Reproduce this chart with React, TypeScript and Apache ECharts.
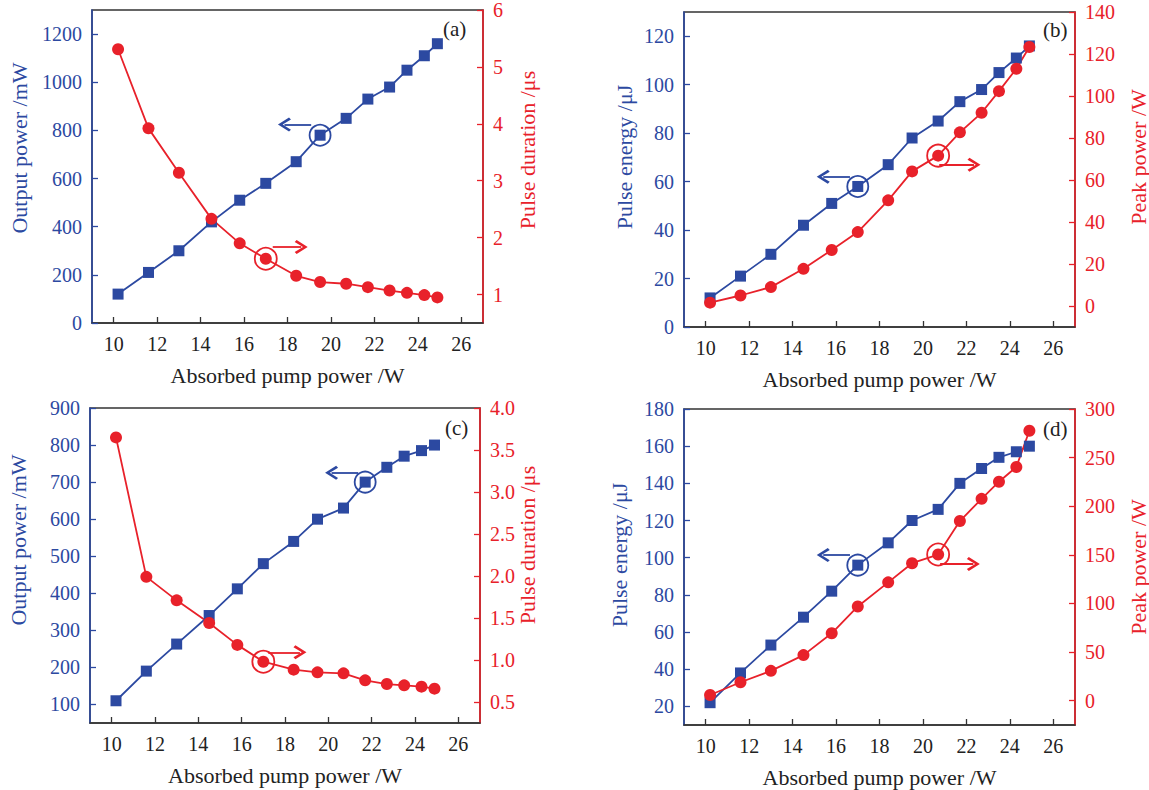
import React, { useEffect, useRef } from "react";
import * as echarts from "echarts";

// ---------- data ----------
const pump = [10.2, 11.6, 13.0, 14.5, 15.8, 17.0, 18.4, 19.5, 20.7, 21.7, 22.7, 23.5, 24.3, 24.9];
const outputA = [120, 210, 300, 420, 510, 580, 670, 780, 850, 930, 980, 1050, 1110, 1160];
const durationA = [5.31, 3.92, 3.14, 2.33, 1.9, 1.63, 1.33, 1.22, 1.19, 1.13, 1.07, 1.03, 0.99, 0.95];
const energyB = [12, 21, 30, 42, 51, 58, 67, 78, 85, 93, 98, 105, 111, 116];
const peakB = [1.6, 5, 9, 17.7, 26.7, 35.2, 50.3, 64.1, 71.6, 82.7, 92, 102.3, 113, 123.3];
const outputC = [110, 190, 263, 340, 412, 480, 540, 600, 630, 700, 740, 770, 785, 800];
const durationC = [3.65, 1.99, 1.71, 1.44, 1.18, 0.98, 0.885, 0.853, 0.841, 0.758, 0.714, 0.698, 0.683, 0.659];
const energyD = [22, 38, 53, 68, 82, 96, 108, 120, 126, 140, 148, 154, 157, 160];
const peakD = [5.9, 19, 30.7, 46.9, 69.3, 96.9, 121.7, 141.4, 150.3, 184.8, 207.6, 225.2, 240.3, 277.6];

const xTicks = [10, 12, 14, 16, 18, 20, 22, 24, 26];
const ticksA_L = [0, 200, 400, 600, 800, 1000, 1200];
const ticksA_R = [1, 2, 3, 4, 5, 6];
const ticksB_L = [0, 20, 40, 60, 80, 100, 120];
const ticksB_R = [0, 20, 40, 60, 80, 100, 120, 140];
const ticksC_L = [100, 200, 300, 400, 500, 600, 700, 800, 900];
const ticksC_R = [0.5, 1.0, 1.5, 2.0, 2.5, 3.0, 3.5, 4.0];
const ticksD_L = [20, 40, 60, 80, 100, 120, 140, 160, 180];
const ticksD_R = [0, 50, 100, 150, 200, 250, 300];

// annotation: highlighted point index (blue, red) and arrow [x0, x1, y]
const markA = { blue: 7, red: 5, blueArrow: [19.09, 17.86, 824], redArrow: [17.32, 18.63, 1.836] };
const markB = { blue: 5, red: 8, blueArrow: [16.64, 15.41, 62], redArrow: [20.75, 22.35, 67.3] };
const markC = { blue: 9, red: 5, blueArrow: [21.38, 20.15, 725], redArrow: [17.23, 18.69, 1.092] };
const markD = { blue: 5, red: 8, blueArrow: [16.64, 15.41, 101.4], redArrow: [20.79, 22.32, 140.6] };

const xName = "Absorbed pump power /W";

const BLUE = "#2c49a1";
const RED = "#e8212a";
const DARK = "#333333";
const FONT = "Liberation Serif";
const ARROW = "path://M5,0 L10,8.5 L8.6,10 L5,3.6 L1.4,10 L0,8.5 Z";

type Panel = {
  grid: { left: number; top: number; width: number; height: number };
  left: { min: number; max: number; ticks: number[]; dec?: number };
  right: { min: number; max: number; ticks: number[]; dec?: number };
  blue: number[];
  red: number[];
  mark: typeof markA;
};

const panels: Panel[] = [
  {
    grid: { left: 92, top: 9, width: 391, height: 314 },
    left: { min: 0, max: 1300, ticks: ticksA_L },
    right: { min: 0.5, max: 6, ticks: ticksA_R },
    blue: outputA, red: durationA, mark: markA,
  },
  {
    grid: { left: 684, top: 12, width: 391, height: 315 },
    left: { min: 0, max: 130, ticks: ticksB_L },
    right: { min: -10, max: 140, ticks: ticksB_R },
    blue: energyB, red: peakB, mark: markB,
  },
  {
    grid: { left: 90, top: 408, width: 390, height: 315 },
    left: { min: 50, max: 900, ticks: ticksC_L },
    right: { min: 0.25, max: 4, ticks: ticksC_R, dec: 1 },
    blue: outputC, red: durationC, mark: markC,
  },
  {
    grid: { left: 684, top: 409, width: 391, height: 316 },
    left: { min: 10, max: 180, ticks: ticksD_L },
    right: { min: -25, max: 300, ticks: ticksD_R },
    blue: energyD, red: peakD, mark: markD,
  },
];

const labels = [
  { text: "(a)", x: 443, y: 18 },
  { text: "(b)", x: 1043, y: 19 },
  { text: "(c)", x: 445, y: 417 },
  { text: "(d)", x: 1043, y: 418 },
];

const axisNames = [
  { text: "Output power /mW", x: 19, y: 148, color: BLUE },
  { text: "Pulse duration /\u03bcs", x: 527, y: 150, color: RED },
  { text: "Pulse energy /\u03bcJ", x: 624, y: 157, color: BLUE },
  { text: "Peak power /W", x: 1138, y: 157, color: RED },
  { text: "Output power /mW", x: 18, y: 540, color: BLUE },
  { text: "Pulse duration /\u03bcs", x: 527, y: 545, color: RED },
  { text: "Pulse energy /\u03bcJ", x: 619, y: 555, color: BLUE },
  { text: "Peak power /W", x: 1138, y: 567, color: RED },
];

function yAxisDef(gi: number, a: { min: number; max: number; ticks: number[]; dec?: number }, color: string, position: string) {
  return {
    type: "value",
    gridIndex: gi,
    position,
    min: a.min,
    max: a.max,
    splitLine: { show: false },
    axisLine: { show: true, onZero: false, lineStyle: { color, width: 1.6 } },
    axisTick: { show: true, inside: true, length: 6, customValues: a.ticks, lineStyle: { color, width: 1.3 } },
    axisLabel: {
      show: true,
      customValues: a.ticks,
      margin: 10,
      color,
      fontFamily: FONT,
      fontSize: 20,
      formatter: (v: number) => (a.dec ? v.toFixed(a.dec) : String(v)),
    },
  };
}

function buildOption() {
  const grid: any[] = [];
  const xAxis: any[] = [];
  const yAxis: any[] = [];
  const series: any[] = [];
  const graphic: any[] = [];
  panels.forEach((p, i) => {
    grid.push({ ...p.grid, show: true, borderColor: DARK, borderWidth: 1.5, backgroundColor: "transparent" });
    xAxis.push({
      type: "value",
      gridIndex: i,
      min: 9,
      max: 27,
      splitLine: { show: false },
      axisLine: { show: true, onZero: false, lineStyle: { color: DARK, width: 1.5 } },
      axisTick: { show: true, inside: true, length: 6, customValues: xTicks, lineStyle: { color: DARK, width: 1.3 } },
      axisLabel: { show: true, customValues: xTicks, margin: 11, color: "#222", fontFamily: FONT, fontSize: 20 },
    });
    graphic.push({
      type: "text",
      x: p.grid.left + p.grid.width / 2,
      y: p.grid.top + p.grid.height + 52,
      style: { text: xName, fill: "#222", font: `22px "${FONT}"`, textAlign: "center", textVerticalAlign: "middle" },
    });
    yAxis.push(yAxisDef(i, p.left, BLUE, "left"));
    yAxis.push(yAxisDef(i, p.right, RED, "right"));
    const m = p.mark;
    series.push({
      type: "line",
      xAxisIndex: i,
      yAxisIndex: 2 * i,
      data: pump.map((x, k) => [x, p.blue[k]]),
      symbol: "rect",
      symbolSize: 11,
      lineStyle: { color: BLUE, width: 1.8 },
      itemStyle: { color: BLUE },
      markPoint: {
        silent: true,
        symbol: "circle",
        symbolSize: 21,
        label: { show: false },
        itemStyle: { color: "rgba(0,0,0,0)", borderColor: BLUE, borderWidth: 1.8 },
        data: [{ coord: [pump[m.blue], p.blue[m.blue]] }],
      },
      markLine: {
        silent: true,
        symbol: ["none", ARROW],
        symbolSize: [14, 13],
        label: { show: false },
        lineStyle: { color: BLUE, width: 1.8, type: "solid" },
        data: [[{ coord: [m.blueArrow[0], m.blueArrow[2]] }, { coord: [m.blueArrow[1], m.blueArrow[2]] }]],
      },
    });
    series.push({
      type: "line",
      xAxisIndex: i,
      yAxisIndex: 2 * i + 1,
      data: pump.map((x, k) => [x, p.red[k]]),
      symbol: "circle",
      symbolSize: 12,
      lineStyle: { color: RED, width: 1.8 },
      itemStyle: { color: RED },
      markPoint: {
        silent: true,
        symbol: "circle",
        symbolSize: 22,
        label: { show: false },
        itemStyle: { color: "rgba(0,0,0,0)", borderColor: RED, borderWidth: 1.8 },
        data: [{ coord: [pump[m.red], p.red[m.red]] }],
      },
      markLine: {
        silent: true,
        symbol: ["none", ARROW],
        symbolSize: [14, 13],
        label: { show: false },
        lineStyle: { color: RED, width: 1.8, type: "solid" },
        data: [[{ coord: [m.redArrow[0], m.redArrow[2]] }, { coord: [m.redArrow[1], m.redArrow[2]] }]],
      },
    });
  });

  labels.forEach((l) => {
    graphic.push({
      type: "text",
      x: l.x,
      y: l.y,
      style: { text: l.text, fill: "#222", font: `21px "${FONT}"`, textAlign: "left", textVerticalAlign: "top" },
    });
  });
  axisNames.forEach((n) => {
    graphic.push({
      type: "text",
      x: n.x,
      y: n.y,
      rotation: Math.PI / 2,
      style: { text: n.text, fill: n.color, font: `22px "${FONT}"`, textAlign: "center", textVerticalAlign: "middle" },
    });
  });

  return { animation: false, backgroundColor: "#ffffff", grid, xAxis, yAxis, series, graphic };
}

export default function App() {
  const ref = useRef<HTMLDivElement>(null);
  useEffect(() => {
    if (!ref.current) return;
    const chart = echarts.init(ref.current, undefined, { renderer: "svg" });
    chart.setOption(buildOption() as any);
    return () => chart.dispose();
  }, []);
  return (
    <div
      ref={ref}
      style={{ position: "fixed", left: 0, top: 0, width: 1149, height: 790, background: "#fff" }}
    />
  );
}
